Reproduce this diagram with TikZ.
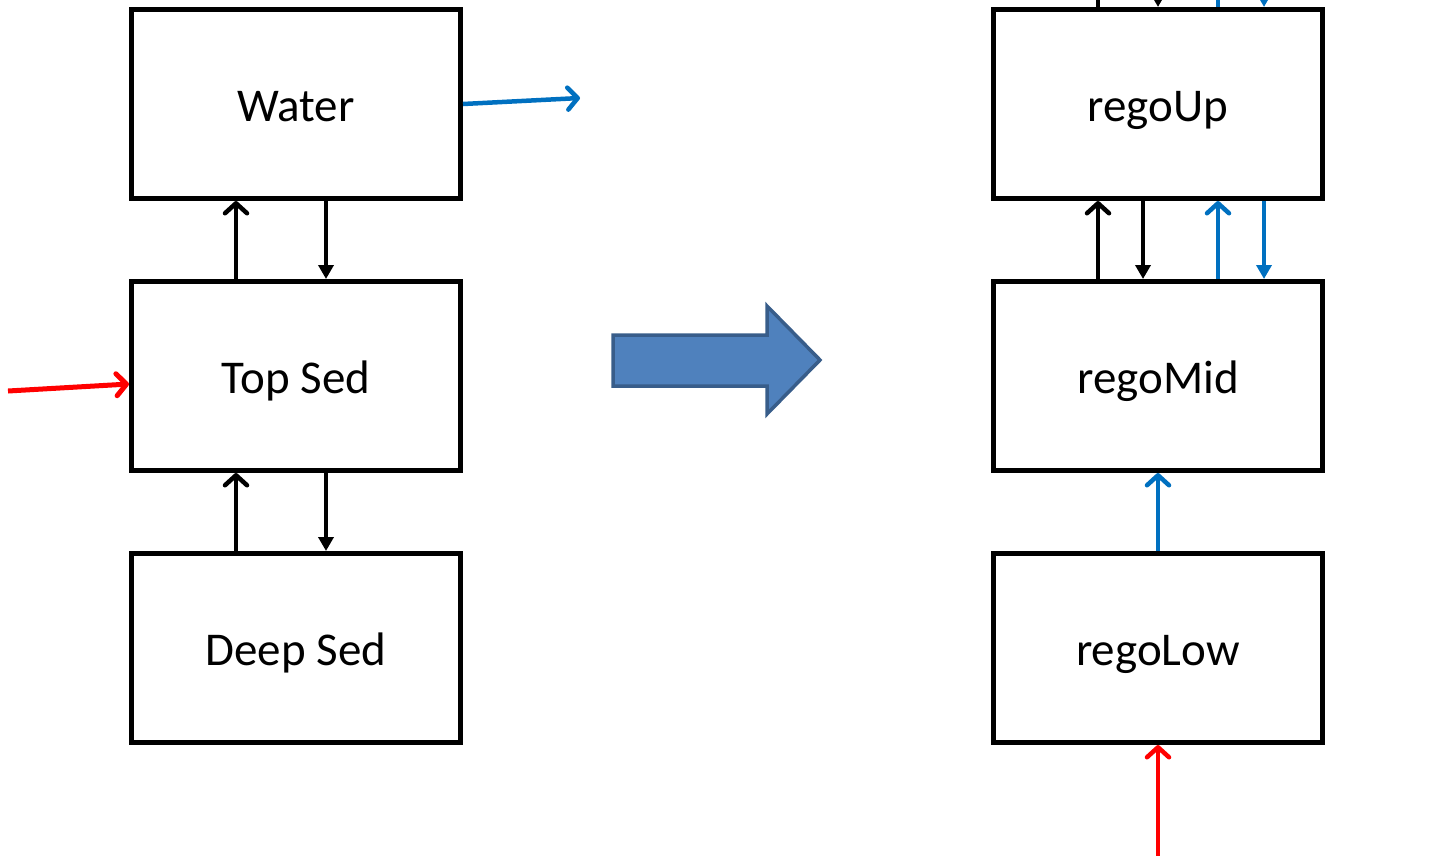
\documentclass[tikz,border=0pt]{standalone}
\usepackage{fontspec}
\setmainfont{Carlito}
\usetikzlibrary{arrows.meta}
\definecolor{cblue}{HTML}{0070C0}
\definecolor{cred}{HTML}{FF0000}
\definecolor{afill}{HTML}{4F81BD}
\definecolor{aline}{HTML}{385D8A}
\begin{document}
\begin{tikzpicture}[x=1pt,y=-1pt,
  box/.style={draw=black,line width=5pt,minimum width=329pt,minimum height=189pt,inner sep=0pt,
    text height=34pt,text depth=0pt,font=\fontsize{47}{56}\selectfont},
  uparr/.style={line width=4.5pt,-{Straight Barb[length=10pt,width=22pt,line cap=round,line join=round]}},
  dnarr/.style={line width=3.5pt,-{Triangle[length=14pt,width=15pt]}}]
\useasboundingbox (0,0) rectangle (1442,855);
\begin{scope}
\clip (0,0) rectangle (1442,855);
\node[box] (w) at (296,104) {Water};
\node[box] (ts) at (296,376) {Top Sed};
\node[box] (ds) at (296,648) {Deep Sed};
\node[box] (ru) at (1158,104) {regoUp};
\node[box] (rm) at (1158,376) {regoMid};
\node[box] (rl) at (1158,648) {regoLow};
\coordinate (redin) at (8,391);
\coordinate (blueout) at (580,98);
\coordinate (redlow) at (1158,870);
% left column
\draw[uparr] ([xshift=-60pt]ts.north) -- ([xshift=-60pt]w.south);
\draw[dnarr] ([xshift=30pt]w.south) -- ([xshift=30pt]ts.north);
\draw[uparr] ([xshift=-60pt]ds.north) -- ([xshift=-60pt]ts.south);
\draw[dnarr] ([xshift=30pt]ts.south) -- ([xshift=30pt]ds.north);
\draw[uparr,cred,line width=5pt] (redin) -- ([yshift=-8pt]ts.west);
\draw[uparr,cblue] (w.east) -- (blueout);
% right column
\draw[uparr] ([xshift=-60pt]rm.north) -- ([xshift=-60pt]ru.south);
\draw[dnarr] ([xshift=-15pt]ru.south) -- ([xshift=-15pt]rm.north);
\draw[uparr,cblue] ([xshift=60pt]rm.north) -- ([xshift=60pt]ru.south);
\draw[dnarr,cblue] ([xshift=106pt]ru.south) -- ([xshift=106pt]rm.north);
\draw[uparr,cblue] (rl.north) -- (rm.south);
\draw[uparr,cred] (redlow) -- (rl.south);
% clipped arrows above regoUp
\draw[uparr] ([xshift=-60pt]ru.north) -- ++(0,-70);
\draw[dnarr] ([yshift=70pt]ru.north) -- (ru.north);
\draw[uparr,cblue] ([xshift=60pt]ru.north) -- ++(0,-70);
\draw[dnarr,cblue] ([xshift=106pt,yshift=70pt]ru.north) -- ([xshift=106pt]ru.north);
% big arrow
\draw[fill=afill,draw=aline,line width=3.5pt,line join=miter]
  (613,335) -- (767,335) -- (767,306) -- (820,360) -- (767,414) -- (767,386) -- (613,386) -- cycle;
\end{scope}
\end{tikzpicture}
\end{document}
